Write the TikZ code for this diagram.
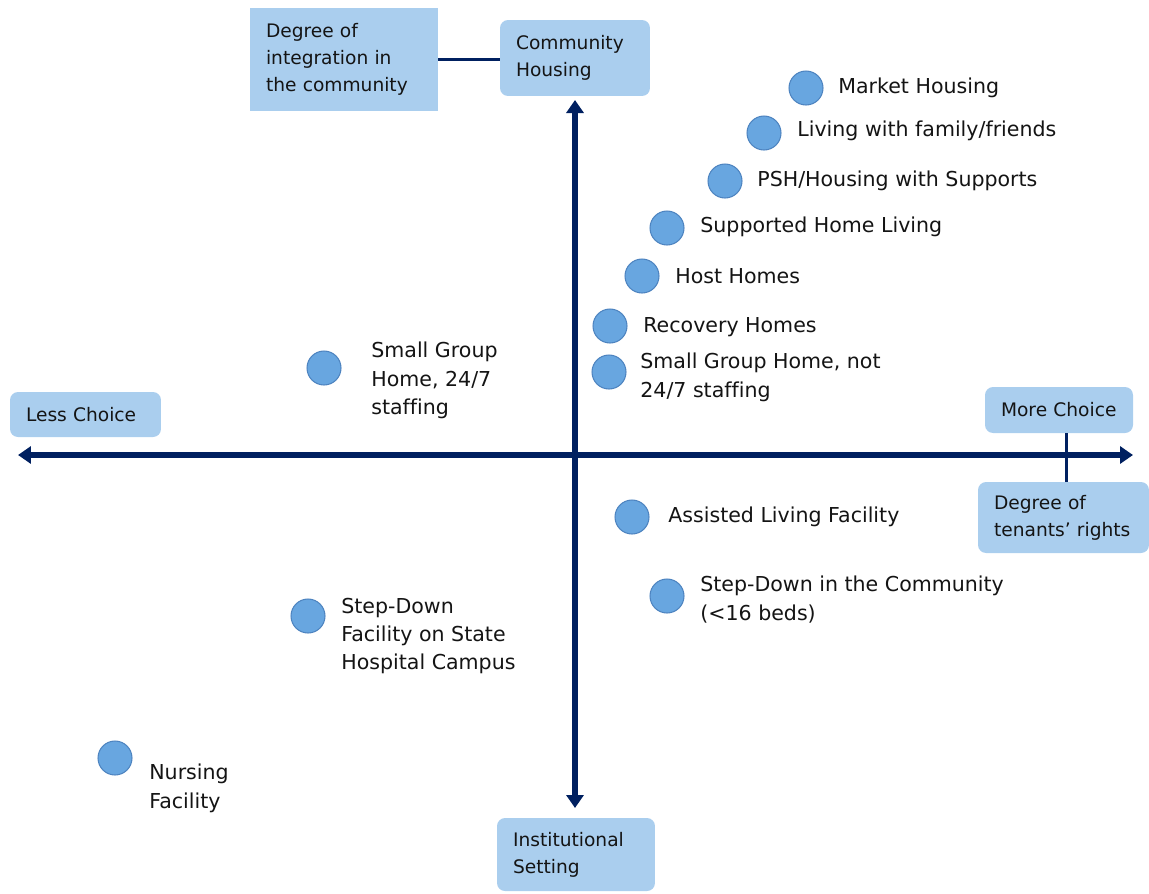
\documentclass[tikz,border=0pt]{standalone}
\usepackage{fontspec}
\setmainfont[Ligatures=CommonOff]{DejaVu Sans}
\usetikzlibrary{arrows.meta,positioning}

\definecolor{navy}{RGB}{0,32,96}
\definecolor{boxblue}{RGB}{170,206,238}
\definecolor{dotblue}{RGB}{104,166,224}
\definecolor{dotedge}{RGB}{78,132,192}
\definecolor{ink}{RGB}{20,20,20}

\begin{document}
\begin{tikzpicture}[
    x=0.02cm, y=-0.02cm,
    box/.style={rectangle, fill=boxblue, text=ink, align=left, inner xsep=0.32cm, inner ysep=0pt,
        font=\fontsize{10.6}{15.2}\selectfont, rounded corners=0.16cm},
    dot/.style={circle, fill=dotblue, draw=dotedge, line width=0.6pt, minimum size=0.68cm, inner sep=0pt},
    label/.style={anchor=west, inner sep=0pt, align=left, text=ink, font=\fontsize{11.7}{16.2}\selectfont},
    axis/.style={{Triangle[length=0.26cm,width=0.34cm]}-{Triangle[length=0.26cm,width=0.34cm]}, line width=0.12cm, navy},
    link/.style={line width=0.06cm, navy}
]
\useasboundingbox (0,0) rectangle (1149,893);

% Axis end labels
\node[box, sharp corners, text width=3.12cm, minimum height=2.06cm] at (344,59.5) (integration) {Degree of\\integration in\\the community\\[-0.12cm]};
\node[box, text width=2.36cm, minimum height=1.52cm] at (575,58) (community) {Community\\Housing};
\node[box, text width=2.38cm, minimum height=0.9cm] at (85.5,414.5) (less) {Less Choice};
\node[box, text width=2.32cm, minimum height=0.92cm] at (1059,410) (more) {More Choice};
\node[box, text width=2.78cm, minimum height=1.42cm] at (1063.5,517.5) (rights) {Degree of\\tenants’ rights};
\node[box, text width=2.52cm, minimum height=1.46cm] at (576,854.5) (institutional) {Institutional\\Setting};

% Axes
\coordinate (west) at (18,455);
\coordinate (east) at (1133,455);
\coordinate (north) at (575,100);
\coordinate (south) at (575,808);
\draw[axis] (west) -- (east);
\draw[axis] (south) -- (north);

% Links between labels
\draw[link] (integration.east) -- (integration.east -| community.west);
\draw[link] ([xshift=0.14cm]more.south) -- ([xshift=0.14cm]more.south |- rights.north);

% Housing options
\node[dot] at (806,88) (marketdot) {};
\node[label] at (838,88) (market) {Market Housing};
\node[dot] at (764,133) (familydot) {};
\node[label] at (797,131) (family) {Living with family/friends};
\node[dot] at (725,181) (pshdot) {};
\node[label] at (757,181) (psh) {PSH/Housing with Supports};
\node[dot] at (667,228) (supporteddot) {};
\node[label] at (700,227) (supported) {Supported Home Living};
\node[dot] at (642,276) (hostdot) {};
\node[label] at (675,276) (host) {Host Homes};
\node[dot] at (610,326) (recoverydot) {};
\node[label] at (643,327) (recovery) {Recovery Homes};
\node[dot] at (609,372) (groupdot) {};
\node[label] at (640,377.5) (group) {Small Group Home, not\\24/7 staffing};
\node[dot] at (324,368) (staffeddot) {};
\node[label] at (371,380.5) (staffed) {Small Group\\Home, 24/7\\staffing};
\node[dot] at (632,517) (assisteddot) {};
\node[label] at (668,517) (assisted) {Assisted Living Facility};
\node[dot] at (667,596) (stepcommdot) {};
\node[label] at (700,599.5) (stepcomm) {Step-Down in the Community\\(<16 beds)};
\node[dot] at (308,616) (stepstatedot) {};
\node[label] at (341,636) (stepstate) {Step-Down\\Facility on State\\Hospital Campus};
\node[dot] at (115,758) (nursingdot) {};
\node[label] at (149,788.5) (nursing) {Nursing\\Facility};

\end{tikzpicture}
\end{document}
